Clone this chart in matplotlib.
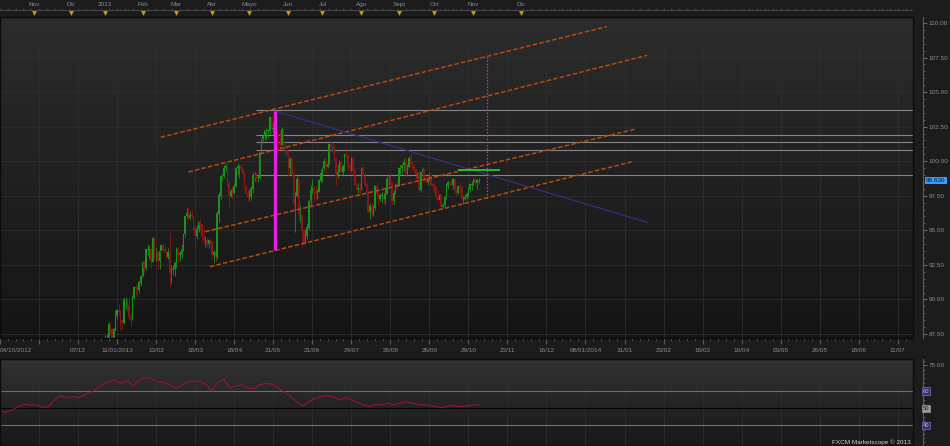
import numpy as np
import pandas as pd
import matplotlib
matplotlib.use("Agg")
import matplotlib.pyplot as plt
import matplotlib.colors as mcolors
from matplotlib.transforms import blended_transform_factory
from matplotlib.patches import Rectangle
from matplotlib.ticker import FormatStrFormatter, MultipleLocator

plt.rcParams['font.family'] = ['Liberation Sans', 'DejaVu Sans']

# ---- data -------------------------------------------------------------
chart_start = '2012-10-04'
holidays = ['2012-12-25', '2013-01-01']
first_day, last_day = '2013-01-02', '2013-11-06'
first_open = 86.7

closes = [
    87.2, 87.2, 88.2, 87.8, 87.1, 87.8, 88.8, 89.2, 89.1, 88.5, 88.3, 90.0, 90.0, 89.6, 88.7, 88.6, 90.1, 90.9, 90.8, 90.7, 91.2, 91.7,
    92.7, 92.3, 93.6, 93.6, 93.6, 92.7, 94.4, 93.4, 93.4, 92.8, 93.5, 93.9, 93.6, 93.5, 93.1, 93.4, 91.9, 92.1, 92.2, 92.6,
    93.6, 93.2, 93.3, 93.6, 94.7, 96.0, 96.2, 95.9, 96.1, 96.0, 95.2, 94.6, 95.1, 95.6, 95.4, 94.5, 94.3, 94.3, 94.0, 94.3, 94.2,
    93.2, 93.4, 93.1, 96.2, 97.5, 98.9, 98.9, 99.5, 99.6, 98.4, 97.5, 97.8, 97.7, 98.2, 99.5, 99.6, 99.6, 99.4, 99.1, 98.0, 97.7, 97.4,
    97.4, 98.0, 99.0, 99.0, 98.8, 98.8, 100.6, 101.6, 101.8, 102.2, 102.2, 102.2, 103.2, 102.3, 102.4, 103.2, 102.0, 101.3, 101.2, 102.3, 101.0, 100.8, 100.5,
    99.5, 100.1, 99.1, 96.9, 97.5, 98.7, 96.1, 96.1, 95.0, 94.1, 94.6, 95.2, 97.1, 97.9, 98.0, 97.8, 97.6, 97.8, 98.6, 99.1,
    99.5, 100.0, 99.6, 99.8, 101.2, 101.0, 100.9, 100.2, 98.9, 99.2, 99.9, 99.2, 99.6, 100.5, 100.4, 99.6, 99.4, 100.2, 99.3, 98.3, 98.0, 98.0, 97.9,
    99.5, 98.9, 98.3, 97.8, 96.3, 96.7, 96.2, 96.6, 98.2, 97.6, 97.3, 97.5, 97.5, 97.3, 97.6, 98.7, 98.7, 98.5, 97.1, 97.7, 98.3, 98.2,
    99.5, 99.5, 99.7, 99.9, 99.1, 99.6, 100.2, 99.8, 99.6, 99.4, 99.0, 99.1, 97.9, 99.2, 99.4, 98.8, 98.5, 98.7, 99.0, 98.3, 98.2,
    98.1, 97.4, 97.2, 97.5, 96.7, 96.8, 97.4, 98.2, 98.5, 98.4, 98.3, 98.7, 97.9, 97.7, 98.2, 98.1, 97.3, 97.3, 97.4, 97.6, 98.0, 98.3, 98.3,
    98.7, 98.4, 98.6, 98.63,
]
highs = [
    87.4, 87.5, 88.4, 88.3, 87.9, 88.0, 89.2, 89.3, 89.7, 89.2, 88.6, 90.1, 90.2, 90.0, 90.2, 89.0, 90.3, 91.0, 91.1, 91.0, 91.3, 91.8,
    92.8, 92.8, 93.6, 94.0, 93.9, 93.7, 94.5, 94.4, 93.7, 93.4, 93.5, 94.0, 94.1, 94.0, 93.6, 93.7, 94.8, 92.5, 92.5, 92.8,
    93.8, 93.8, 93.5, 94.0, 94.8, 96.0, 96.6, 96.7, 96.4, 96.5, 96.0, 95.2, 95.4, 95.7, 95.9, 95.4, 95.3, 94.6, 94.5, 94.4, 94.4,
    94.0, 93.6, 93.5, 96.4, 97.8, 99.0, 99.1, 99.7, 99.9, 99.7, 98.7, 98.0, 98.2, 98.4, 99.6, 99.9, 99.7, 99.8, 99.5, 99.3, 98.3, 98.0,
    97.9, 98.2, 99.2, 99.2, 99.2, 99.0, 100.6, 101.6, 102.0, 102.2, 102.4, 102.3, 103.3, 103.3, 102.8, 103.7, 103.2, 102.2, 102.2, 102.5, 102.0, 101.5, 101.0,
    100.8, 100.3, 100.3, 99.3, 97.8, 99.0, 98.8, 96.8, 96.2, 95.2, 95.0, 95.5, 97.2, 98.3, 98.7, 98.2, 98.2, 98.0, 98.7, 99.4,
    99.6, 100.2, 100.2, 100.0, 101.2, 101.5, 101.3, 101.2, 100.3, 99.8, 100.1, 100.0, 99.8, 100.6, 101.0, 100.3, 99.9, 100.3, 100.2, 99.5, 98.5, 98.4, 98.4,
    99.6, 99.9, 99.2, 98.5, 97.9, 97.0, 97.0, 96.8, 98.3, 98.5, 98.0, 97.7, 97.8, 97.8, 98.0, 98.9, 99.0, 99.1, 98.5, 97.9, 98.4, 98.6,
    99.6, 99.7, 99.8, 100.2, 100.2, 99.8, 100.4, 100.6, 100.0, 99.8, 99.4, 99.2, 99.4, 99.2, 99.6, 99.4, 99.0, 98.8, 99.2, 99.1, 98.4,
    98.5, 98.2, 97.9, 97.6, 97.5, 97.0, 97.5, 98.4, 98.6, 98.6, 98.7, 98.8, 98.7, 98.0, 98.3, 98.4, 98.2, 97.5, 97.6, 97.8, 98.1, 98.4, 98.6,
    98.8, 98.9, 98.7, 98.8,
]
lows = [
    86.6, 86.9, 87.0, 87.5, 87.1, 87.0, 87.7, 88.6, 88.9, 87.8, 87.8, 88.2, 89.3, 89.1, 88.5, 88.1, 88.5, 90.0, 90.3, 90.2, 90.5, 91.0,
    91.6, 91.9, 92.1, 93.2, 92.9, 92.3, 92.8, 92.9, 92.8, 92.2, 92.2, 93.5, 93.4, 93.4, 92.9, 92.9, 90.9, 91.2, 91.8, 91.7,
    92.3, 92.7, 92.8, 93.0, 93.5, 94.5, 95.9, 95.7, 95.8, 95.9, 95.0, 93.8, 94.4, 94.9, 95.0, 94.2, 94.1, 93.8, 93.8, 93.7, 94.1,
    92.9, 92.6, 92.7, 92.9, 95.6, 97.3, 98.6, 98.8, 99.3, 98.2, 96.7, 97.4, 97.3, 97.6, 98.1, 99.1, 98.8, 99.2, 98.8, 98.0, 97.6, 97.3,
    97.1, 97.2, 97.7, 98.6, 98.6, 98.5, 98.7, 100.5, 101.3, 101.5, 101.6, 101.7, 102.0, 102.2, 102.0, 102.3, 100.8, 100.6, 100.9, 101.2, 100.6, 100.2, 100.4,
    98.9, 99.0, 98.9, 96.5, 94.9, 97.4, 95.8, 95.6, 93.8, 94.1, 94.0, 94.4, 95.0, 96.8, 97.6, 97.1, 97.2, 97.3, 97.8, 98.5,
    98.5, 99.3, 99.1, 99.5, 99.7, 100.7, 100.6, 100.1, 98.3, 98.8, 99.2, 99.0, 99.0, 99.3, 100.2, 99.3, 99.2, 99.3, 99.1, 98.3, 97.9, 97.6, 97.5,
    97.9, 98.8, 98.2, 97.5, 96.3, 95.8, 96.0, 96.0, 96.5, 97.5, 96.8, 97.1, 97.0, 97.0, 96.9, 97.6, 98.3, 98.3, 96.8, 96.9, 97.6, 97.9,
    98.9, 99.1, 99.1, 99.3, 98.9, 99.0, 99.5, 99.7, 99.3, 99.2, 98.6, 98.8, 97.8, 97.8, 99.0, 98.6, 98.4, 98.3, 98.6, 98.2, 97.8,
    97.8, 97.2, 97.0, 97.0, 96.6, 96.6, 96.7, 97.3, 98.0, 98.2, 98.2, 98.0, 97.7, 97.5, 97.6, 97.7, 97.2, 96.9, 97.2, 97.3, 97.4, 97.8, 97.9,
    98.3, 98.3, 98.0, 98.4,
]

# oscillator in lower panel (sampled along the data span)
rsi = [48.4, 47.6, 48.9, 50.9, 52.3, 51.9, 51.9, 50.3, 50.9, 54.8, 57.3, 56.2, 56.7, 56.2, 57.7, 59.3,
       61.6, 63.9, 65.5, 66.5, 64.5, 65.9, 63.2, 66.5, 67.8, 67.5, 65.5, 65.1, 63.6, 61.6, 63.2, 65.5,
       65.9, 65.5, 63.9, 60.0, 65.5, 66.5, 61.6, 63.2, 63.6, 61.6, 61.6, 63.9, 64.5, 63.9, 61.6, 59.3,
       56.7, 53.8, 51.3, 53.8, 55.8, 56.7, 57.3, 56.7, 54.8, 56.2, 54.8, 53.4, 51.9, 50.9, 52.3, 51.9,
       52.9, 51.9, 52.9, 53.8, 52.9, 52.3, 51.9, 51.5, 50.9, 50.3, 51.5, 51.3, 50.9, 51.3, 51.9, 51.9]
rsi_levels = [60, 50, 40]

# drawings (bar index, price)
channel = [  # x0, y0, x1, y1
    (94.7, 101.73, 357.5, 109.73),
    (111.0, 99.22, 381.4, 107.66),
    (120.8, 94.90, 374.2, 102.31),
    (123.7, 92.37, 372.8, 99.97),
]
h_levels = [103.71, 101.88, 101.37, 100.81, 99.0]
h_levels_start = 150.9
peak_bar, peak_top, peak_bottom = 162, 103.6, 93.56
blue_line = (162, 103.63, 381.4, 95.58)
green_line = (270.1, 294.6, 99.34)
dotted_line = (287.2, 97.34, 107.54)

date_labels = ['04/10/2012', '', '07/12', '11/01/2013', '13/02', '18/03', '18/04', '21/05',
               '21/06', '24/07', '26/08', '26/09', '29/10', '23/11', '16/12', '08/01/2014',
               '31/01', '23/02', '18/03', '10/04', '03/05', '26/05', '18/06', '11/07']
month_names = ['Nov', 'Dic', '2013', 'Feb', 'Mar', 'Abr', 'Mayo', 'Jun', 'Jul', 'Ago',
               'Sept', 'Oct', 'Nov', 'Dic']
month_dates = ['2012-11-01', '2012-12-01', '2013-01-01', '2013-02-01', '2013-03-01',
               '2013-04-01', '2013-05-01', '2013-06-01', '2013-07-01', '2013-08-01',
               '2013-09-01', '2013-10-01', '2013-11-01', '2013-12-01']

# ---- helpers ----------------------------------------------------------
dates = pd.bdate_range(first_day, last_day)
assert len(dates) == len(closes) == len(highs) == len(lows)
last_bar = np.busday_count(chart_start, np.datetime64(last_day), holidays=holidays)


def bar_of(d):
    d = np.datetime64(d, 'D')
    if d <= np.datetime64(last_day):
        return np.busday_count(chart_start, d, holidays=holidays)
    return last_bar + (d - np.datetime64(last_day)).astype(int)


bars = np.array([bar_of(d) for d in dates.values.astype('datetime64[D]')])
closes = np.array(closes)
opens = np.r_[first_open, closes[:-1]]
highs = np.maximum(np.array(highs), np.maximum(opens, closes))
lows = np.minimum(np.array(lows), np.minimum(opens, closes))

W, H = 950, 446
X_MAX = 538


def box(x0, y0, x1, y1):
    return [x0 / W, 1 - y1 / H, (x1 - x0) / W, (y1 - y0) / H]


def gradient(a, top, bottom):
    c0 = np.array(mcolors.to_rgb(top))
    c1 = np.array(mcolors.to_rgb(bottom))
    t = np.linspace(0, 1, 200)[:, None]
    img = (c0 * (1 - t) + c1 * t)[:, None, :]
    a.imshow(img, extent=[0, 1, 0, 1], transform=a.transAxes, aspect='auto',
             zorder=0, interpolation='bilinear')


txt_col = '#8c8c8c'
grid_col = '#2e2e2e'
fs = 4.6

fig = plt.figure(figsize=(W / 100, H / 100), dpi=100, facecolor='#1c1c1c')
ax = fig.add_axes(box(0, 17, 913, 338))
ax_top = fig.add_axes(box(0, 0, 913, 17))
ax_rsi = fig.add_axes(box(0, 359, 913, 446))

# ---- main price panel -------------------------------------------------
gradient(ax, '#2c2c2c', '#151515')
up_col, dn_col = '#1c921c', '#871818'
cols = np.where(closes >= opens, up_col, dn_col)
ax.vlines(bars, lows, highs, colors=cols, lw=0.6, zorder=3)
ax.bar(bars, np.abs(closes - opens) + 0.03, bottom=np.minimum(opens, closes),
       width=0.9, color=cols, linewidth=0, zorder=4)

ax.hlines(h_levels, h_levels_start, X_MAX, colors='#858585', lw=0.8, zorder=2)
for x0, y0, x1, y1 in channel:
    ax.plot([x0, x1], [y0, y1], color='#b84814', lw=1.1, ls=(0, (3, 1.4)), zorder=5)
ax.plot(blue_line[::2], blue_line[1::2], color='#34348a', lw=0.8, zorder=5)
ax.vlines(peak_bar, peak_bottom, peak_top, colors='#e81ee8', lw=2.2, zorder=6)
ax.hlines(green_line[2], green_line[0], green_line[1], colors='#22cc22', lw=1.3, zorder=6)
ax.vlines(dotted_line[0], dotted_line[1], dotted_line[2], colors='#d428d4', lw=0.9,
          linestyles=(0, (1.2, 1.4)), zorder=6)

ax.set_xlim(0, X_MAX)
ax.set_ylim(87.21, 110.43)
ax.set_xticks(np.arange(len(date_labels)) * 23)
ax.set_xticklabels(date_labels)
ax.xaxis.set_minor_locator(MultipleLocator(23 / 5))
ax.xaxis.get_ticklabels()[0].set_ha('left')
ax.yaxis.tick_right()
ax.yaxis.set_major_locator(MultipleLocator(2.5))
ax.yaxis.set_minor_locator(MultipleLocator(0.5))
ax.yaxis.set_major_formatter(FormatStrFormatter('%.2f'))
ax.grid(which='major', color=grid_col, lw=0.6)
ax.set_axisbelow(True)
ax.tick_params(axis='x', which='major', direction='out', length=4, color='#5a5a5a',
               labelsize=fs, labelcolor=txt_col, pad=3)
ax.tick_params(axis='x', which='minor', direction='out', length=2, color='#5a5a5a')
ax.tick_params(axis='y', which='major', direction='out', length=3, color='#6a6a6a',
               labelsize=fs, labelcolor=txt_col, pad=1.5)
ax.tick_params(axis='y', which='minor', direction='out', length=1.5, color='#6a6a6a')
for s in ax.spines.values():
    s.set_color('#0c0c0c')
ax.spines['right'].set_position(('outward', 7))
ax.spines['right'].set_color('#5a5a5a')
ax.add_patch(Rectangle((0, 0), 1, 1, transform=ax.transAxes, fill=False,
                       ec='#0c0c0c', lw=1.0, zorder=7, clip_on=False))

tr = blended_transform_factory(ax.transAxes, ax.transData)
ax.text(1.0145, closes[-1], '%.3f' % closes[-1], transform=tr, fontsize=fs,
        color='#0b1a33', ha='left', va='center',
        bbox=dict(boxstyle='square,pad=0.15', fc='#3a9cff', ec='none'))

# ---- top month strip ----------------------------------------------------
ax_top.set_facecolor('#1c1c1c')
ax_top.set_xlim(0, X_MAX)
ax_top.set_ylim(0, 1)
ax_top.axis('off')
ax_top.axhline(0.41, color='#4a4a4a', lw=0.7)
ax_top.vlines(np.arange(0, X_MAX, 23 / 5), 0.41, 0.52, colors='#4a4a4a', lw=0.5)
m_bars = [bar_of(d) for d in month_dates]
ax_top.scatter(m_bars, [0.25] * len(m_bars), marker='v', s=12, color='#d49a12',
               linewidths=0, zorder=3)
for name, b in zip(month_names, m_bars):
    ax_top.text(b, 0.72, name, fontsize=fs, color=txt_col, ha='center', va='center')

# ---- lower oscillator panel ---------------------------------------------
gradient(ax_rsi, '#323232', '#181818')
rsi_x = np.linspace(0, bars[-1], len(rsi))
ax_rsi.plot(rsi_x, rsi, color='#9a1048', lw=0.8, zorder=4)
ax_rsi.axhline(rsi_levels[0], color='#6a64a8', lw=0.8, zorder=3)
ax_rsi.axhline(rsi_levels[1], color='#050505', lw=0.8, zorder=3)
ax_rsi.axhline(rsi_levels[2], color='#6a64a8', lw=0.8, zorder=3)
ax_rsi.set_xlim(0, X_MAX)
ax_rsi.set_ylim(27.9, 78.75)
ax_rsi.set_xticks(np.arange(len(date_labels)) * 23)
ax_rsi.grid(axis='x', color=grid_col, lw=0.6)
ax_rsi.set_axisbelow(True)
ax_rsi.tick_params(axis='x', length=0, labelbottom=False)
ax_rsi.yaxis.tick_right()
ax_rsi.set_yticks([75])
ax_rsi.yaxis.set_major_formatter(FormatStrFormatter('%.2f'))
ax_rsi.yaxis.set_minor_locator(MultipleLocator(2.5))
ax_rsi.tick_params(axis='y', which='major', direction='out', length=3, color='#6a6a6a',
                   labelsize=fs, labelcolor=txt_col, pad=1.5)
ax_rsi.tick_params(axis='y', which='minor', direction='out', length=1.5, color='#6a6a6a')
for s in ax_rsi.spines.values():
    s.set_color('#0c0c0c')
ax_rsi.spines['right'].set_position(('outward', 7))
ax_rsi.spines['right'].set_color('#5a5a5a')
ax_rsi.add_patch(Rectangle((0, 0), 1, 1, transform=ax_rsi.transAxes, fill=False,
                           ec='#0c0c0c', lw=1.0, zorder=7, clip_on=False))
tr2 = blended_transform_factory(ax_rsi.transAxes, ax_rsi.transData)
for lv in rsi_levels:
    mid = lv == 50
    ax_rsi.text(1.0142, lv, str(lv), transform=tr2, fontsize=fs - 0.4, ha='center', va='center',
                color='#202020' if mid else '#b0b0f0',
                bbox=dict(boxstyle='square,pad=0.2', fc='#9a9a9a' if mid else '#34346e',
                          ec='#9a9a9a' if mid else '#7070c0', lw=0.5))
ax_rsi.text(0.998, 0.046, 'FXCM Marketscope © 2013', transform=ax_rsi.transAxes,
            fontsize=fs, color='#d0d0d0', ha='right', va='center', zorder=8)

fig.savefig('out.png', dpi=100, facecolor=fig.get_facecolor())
